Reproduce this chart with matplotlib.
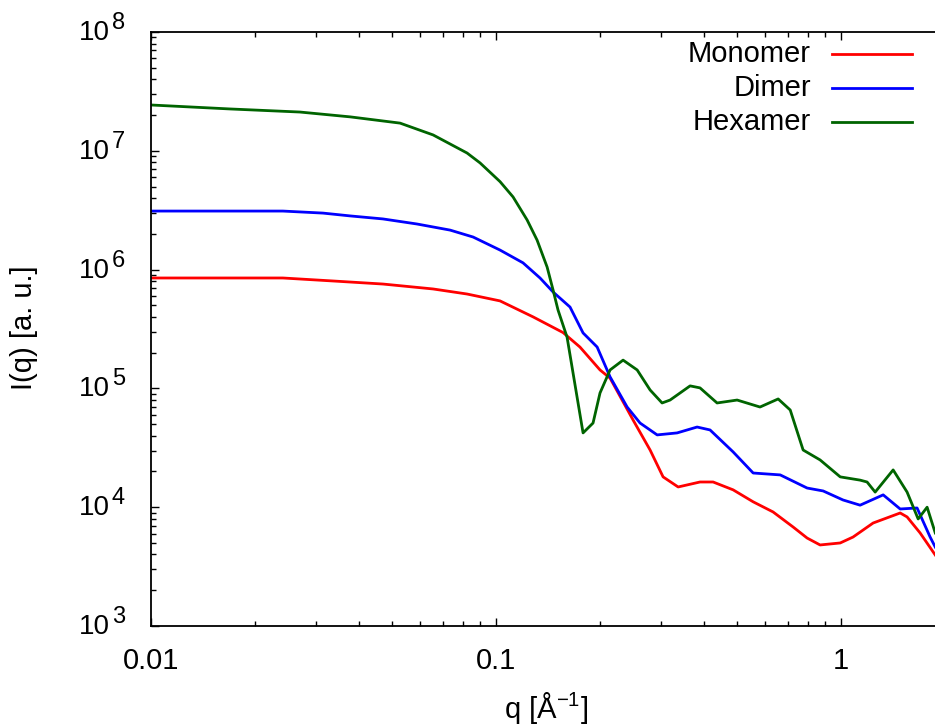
import numpy as np
import matplotlib
matplotlib.use('Agg')
import matplotlib.pyplot as plt
from matplotlib.lines import Line2D
from matplotlib.ticker import LogLocator, NullFormatter

plt.rcParams['font.family'] = ['Liberation Sans', 'DejaVu Sans']
plt.rcParams['mathtext.fontset'] = 'custom'
plt.rcParams['mathtext.rm'] = 'Liberation Sans'
plt.rcParams['mathtext.it'] = 'Liberation Sans'

# datos
q_mono = [0.01, 0.0241, 0.0337, 0.047, 0.0657, 0.0824, 0.1027, 0.128, 0.1564, 0.175,
          0.2001, 0.214, 0.2495, 0.2795, 0.3048, 0.337, 0.390, 0.4256, 0.4864, 0.556,
          0.635, 0.726, 0.797, 0.869, 0.994, 1.083, 1.238, 1.483, 1.553, 1.694, 1.874]
I_mono = [8.5e5, 8.5e5, 8.02e5, 7.56e5, 6.87e5, 6.23e5, 5.45e5, 4.0e5, 2.95e5, 2.23e5,
          1.43e5, 1.22e5, 5.42e4, 3.03e4, 1.8e4, 1.48e4, 1.63e4, 1.63e4, 1.40e4, 1.11e4,
          9.12e3, 6.81e3, 5.5e3, 4.81e3, 5.0e3, 5.61e3, 7.36e3, 8.94e3, 8.28e3, 6.07e3, 3.96e3]

q_dim = [0.01, 0.0241, 0.0315, 0.0378, 0.047, 0.059, 0.0736, 0.0858, 0.1027, 0.1197,
         0.1341, 0.1463, 0.1638, 0.1787, 0.1963, 0.214, 0.2398, 0.2614, 0.293, 0.3347,
         0.3825, 0.417, 0.4864, 0.556, 0.666, 0.797, 0.887, 1.013, 1.135, 1.324,
         1.483, 1.66, 1.811, 1.874]
I_dim = [3.11e6, 3.11e6, 2.99e6, 2.83e6, 2.67e6, 2.42e6, 2.15e6, 1.88e6, 1.46e6, 1.14e6,
         8.5e5, 6.48e5, 4.84e5, 2.93e5, 2.23e5, 1.25e5, 6.97e4, 5.11e4, 4.06e4, 4.22e4,
         4.73e4, 4.47e4, 2.92e4, 1.94e4, 1.87e4, 1.45e4, 1.37e4, 1.15e4, 1.04e4, 1.27e4,
         9.66e3, 9.85e3, 5.61e3, 4.62e3]

q_hex = [0.01, 0.01695, 0.027, 0.0378, 0.0527, 0.0657, 0.0824, 0.0899, 0.1027, 0.112,
         0.123, 0.1315, 0.1406, 0.1463, 0.1512, 0.1606, 0.1787, 0.191, 0.2001, 0.214,
         0.2334, 0.2564, 0.2795, 0.3028, 0.3194, 0.365, 0.390, 0.437, 0.4996, 0.582,
         0.657, 0.712, 0.776, 0.869, 0.994, 1.135, 1.189, 1.255, 1.415, 1.553,
         1.672, 1.775, 1.874]
I_hex = [2.43e7, 2.25e7, 2.12e7, 1.93e7, 1.71e7, 1.36e7, 9.58e6, 7.9e6, 5.5e6, 4.09e6,
         2.62e6, 1.77e6, 1.05e6, 6.73e5, 4.57e5, 2.7e5, 4.22e4, 5.11e4, 9.15e4, 1.43e5,
         1.73e5, 1.43e5, 9.7e4, 7.54e4, 7.98e4, 1.05e5, 1.01e5, 7.54e4, 7.98e4, 6.97e4,
         8.15e4, 6.58e4, 3.03e4, 2.5e4, 1.8e4, 1.69e4, 1.63e4, 1.34e4, 2.06e4, 1.34e4,
         7.96e3, 1.0e4, 6.07e3]

nombres = ['Monomer', 'Dimer', 'Hexamer']
colores = ['#ff0000', '#0000ff', '#006400']
xticks = [0.01, 0.1, 1]
xtick_labels = ['0.01', '0.1', '1']
y_exps = [3, 4, 5, 6, 7, 8]

W, H = 935, 727
fig = plt.figure(figsize=(W / 100, H / 100), dpi=100)
ax = fig.add_axes([151 / W, 101 / H, 794 / W, 594 / H])

series = [(q_mono, I_mono), (q_dim, I_dim), (q_hex, I_hex)]
for (q, I), c in zip(series, colores):
    ax.plot(q, I, color=c, lw=2.0)

ax.set_xscale('log')
ax.set_yscale('log')
ax.set_xlim(0.01, 2.0)
ax.set_ylim(1e3, 1e8)

ax.set_xticks(xticks, labels=xtick_labels)
ax.xaxis.set_minor_locator(LogLocator(base=10, subs=np.arange(2, 10), numticks=20))
ax.xaxis.set_minor_formatter(NullFormatter())
ax.set_yticks([10.0 ** e for e in y_exps])
ax.yaxis.set_minor_locator(LogLocator(base=10, subs=np.arange(2, 10), numticks=20))
ax.yaxis.set_minor_formatter(NullFormatter())

ax.tick_params(which='both', direction='in', top=True, right=True, width=1.0)
ax.tick_params(which='major', length=6)
ax.tick_params(which='minor', length=3.5)
ax.tick_params(axis='x', pad=15, labelsize=21)
ax.tick_params(axis='y', labelleft=False)
for s in ax.spines.values():
    s.set_linewidth(1.3)

# etiquetas del eje y tipo gnuplot: 10 con exponente grande
ytr = ax.get_yaxis_transform()
for e in y_exps:
    ax.annotate('10', xy=(0, 10.0 ** e), xycoords=ytr, xytext=(-41, -1),
                textcoords='offset pixels', ha='right', va='center', fontsize=20,
                annotation_clip=False)
    ax.annotate(str(e), xy=(0, 10.0 ** e), xycoords=ytr, xytext=(-39, 9),
                textcoords='offset pixels', ha='left', va='center', fontsize=17,
                annotation_clip=False)

fig.text(24 / W, 1 - 328 / H, 'I(q) [a. u.]', rotation=90, ha='center', va='center', fontsize=21)
fig.text(546 / W, 1 - 708 / H, 'q [Å$^{-1}$]', ha='center', va='center', fontsize=21)

# leyenda al estilo gnuplot
for i, (n, c) in enumerate(zip(nombres, colores)):
    y = 1 - (54 + 34 * i) / H
    fig.text(811 / W, y, n, ha='right', va='center', fontsize=21)
    fig.add_artist(Line2D([832 / W, 912 / W], [y, y], transform=fig.transFigure, color=c, lw=2.0))

fig.savefig('out.png', dpi=100)
